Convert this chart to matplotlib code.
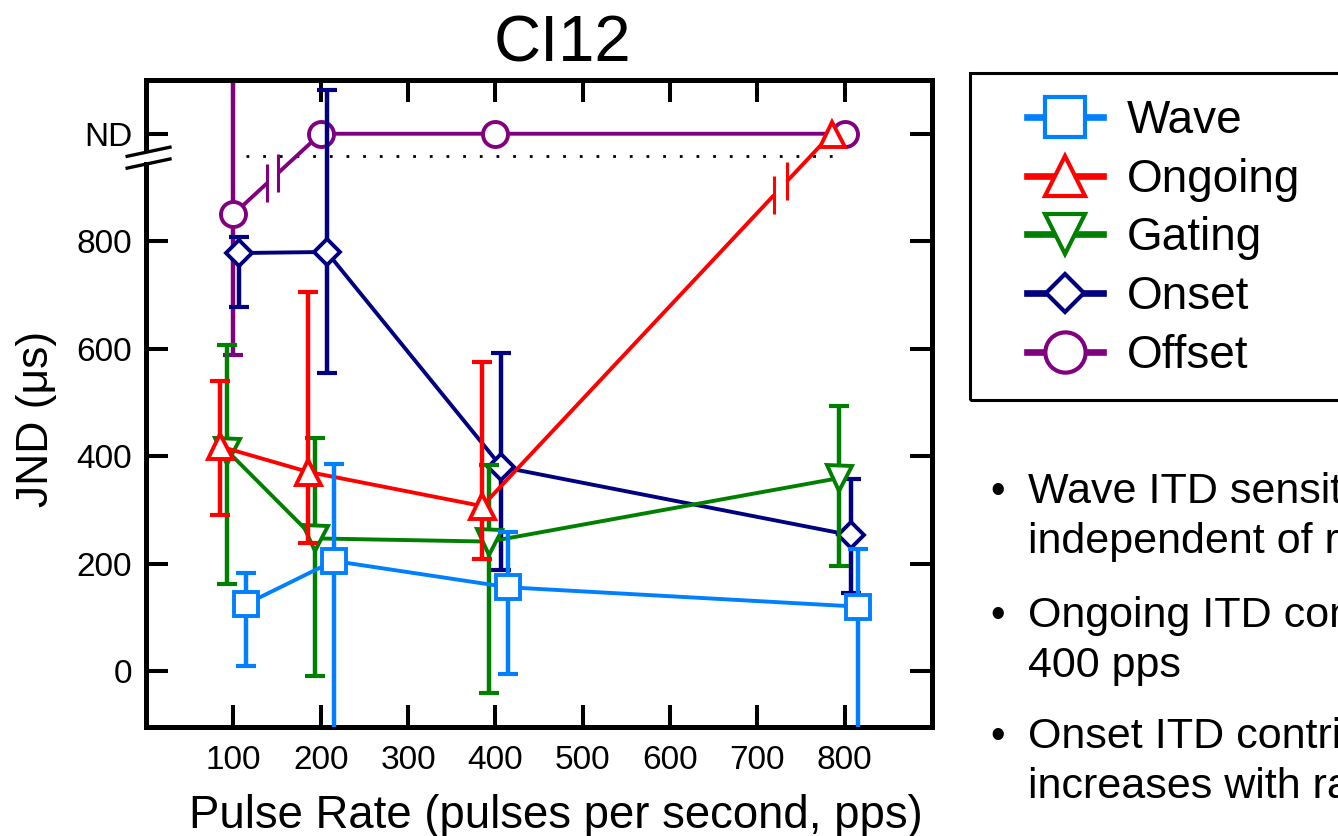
import numpy as np
import matplotlib
matplotlib.use('Agg')
import matplotlib.pyplot as plt
from matplotlib.lines import Line2D
from matplotlib.patches import Rectangle

plt.rcParams['font.family'] = ['Liberation Sans', 'DejaVu Sans']

# pulse rates (pps); ND = threshold not determined, drawn on the ND row
rates = [100, 200, 400, 800]
ND = 1000

series = ['Wave', 'Ongoing', 'Gating', 'Onset', 'Offset']

wave_jnd = [125, 205, 156, 120]
wave_lo = [10, -150, -5, -150]
wave_hi = [183, 386, 258, 228]

ongoing_jnd = [418, 371, 307, ND]
ongoing_lo = [290, 238, 208, np.nan]
ongoing_hi = [540, 705, 576, np.nan]

gating_jnd = [410, 247, 241, 359]
gating_lo = [163, -10, -41, 195]
gating_hi = [606, 433, 383, 493]

onset_jnd = [778, 780, 380, 253]
onset_lo = [678, 554, 188, 145]
onset_hi = [807, 1081, 592, 357]

offset_jnd = [850, ND, ND, ND]
offset_lo = [588, np.nan, np.nan, np.nan]
offset_hi = [1150, np.nan, np.nan, np.nan]

data = {
    'Wave': (wave_jnd, wave_lo, wave_hi),
    'Ongoing': (ongoing_jnd, ongoing_lo, ongoing_hi),
    'Gating': (gating_jnd, gating_lo, gating_hi),
    'Onset': (onset_jnd, onset_lo, onset_hi),
    'Offset': (offset_jnd, offset_lo, offset_hi),
}

# dotted line just under the ND row
nd_line_x = [115, 790]
nd_line_y = 958

bullets = [
    ('Wave ITD sensitivity', 'independent of rate'),
    ('Ongoing ITD contribution drops above', '400 pps'),
    ('Onset ITD contribution', 'increases with rate'),
]

# styles
colors = {'Wave': '#0080ff', 'Ongoing': '#ff0000', 'Gating': '#008000',
          'Onset': '#000080', 'Offset': '#800080'}
markers = {'Wave': 's', 'Ongoing': '^', 'Gating': 'v', 'Onset': 'D', 'Offset': 'o'}
msizes = {'Wave': 17.5, 'Ongoing': 18, 'Gating': 18, 'Onset': 13, 'Offset': 18}
leg_msizes = {'Wave': 29, 'Ongoing': 29, 'Gating': 29, 'Onset': 19, 'Offset': 29}
xshift = {'Wave': 15, 'Ongoing': -15, 'Gating': -7, 'Onset': 7, 'Offset': 0}
# axis-break marks on lines: series, segment start index, fractions along segment
line_breaks = [('Offset', 0, 0.385, 0.515), ('Ongoing', 2, 0.835, 0.872)]

W, H = 1338, 836
fig = plt.figure(figsize=(W / 100, H / 100), dpi=100)
ax = fig.add_axes([146 / W, 1 - 727 / H, (932 - 146) / W, (727 - 80) / H])

lw = 2.8
draw_order = ['Offset', 'Onset', 'Gating', 'Ongoing', 'Wave']
for k, name in enumerate(draw_order):
    jnd, lo, hi = (np.array(a, dtype=float) for a in data[name])
    x = np.array(rates, dtype=float) + xshift[name]
    c = colors[name]
    ok = ~np.isnan(lo)
    ax.errorbar(x[ok], jnd[ok], yerr=[jnd[ok] - lo[ok], hi[ok] - jnd[ok]],
                fmt='none', ecolor=c, elinewidth=3.2, capsize=7, capthick=3,
                zorder=2 + k)
    ax.plot(x, jnd, color=c, lw=lw, marker=markers[name],
            markersize=msizes[name], markerfacecolor='white',
            markeredgecolor=c, markeredgewidth=2.8, zorder=2.5 + k, label=name)

# "||" break marks on lines that jump to the ND row
for name, i, t1, t2 in line_breaks:
    jnd = data[name][0]
    x0, x1 = rates[i] + xshift[name], rates[i + 1] + xshift[name]
    y0, y1 = jnd[i], jnd[i + 1]
    bx = [x0 + t1 * (x1 - x0), x0 + t2 * (x1 - x0)]
    by = [y0 + t1 * (y1 - y0), y0 + t2 * (y1 - y0)]
    z = draw_order.index(name) + 2.6
    ax.plot(bx, by, color='white', lw=lw + 2, solid_capstyle='butt', zorder=z)
    ax.plot(bx, by, ls='none', marker='|', markersize=28, markeredgewidth=2.2,
            color=colors[name], zorder=z + 0.05)

ax.plot(nd_line_x, [nd_line_y, nd_line_y], color='black', lw=2,
        ls=(0, (1, 5)), zorder=1.5)

ax.set_xlim(0, 900)
ax.set_ylim(-104, 1100)
ax.set_xticks([100, 200, 300, 400, 500, 600, 700, 800])
ax.set_yticks([0, 200, 400, 600, 800, 1000])
ax.set_yticklabels(['0', '200', '400', '600', '800', 'ND'])
ax.tick_params(direction='in', length=16, width=2.9, labelsize=24,
               top=True, right=True)
ax.tick_params(axis='x', pad=13)
ax.tick_params(axis='y', pad=10)

for side in ['top', 'right', 'bottom', 'left']:
    ax.spines[side].set_linewidth(3.6)
# broken left axis between 800 and ND
ax.spines['left'].set_bounds(-104, 943)
yax = ax.get_yaxis_transform()
ax.plot([0, 0], [966, 1100], color='black', lw=3.6, transform=yax,
        clip_on=False, solid_capstyle='butt')
ax.plot([-0.024, 0.0305], [958, 975], color='black', lw=2.4, transform=yax,
        clip_on=False)
ax.plot([-0.024, 0.0305], [936, 953], color='black', lw=2.4, transform=yax,
        clip_on=False)

ax.set_xlabel('Pulse Rate (pulses per second, pps)', fontsize=32.8, labelpad=13)
ax.xaxis.label.set_x((556 - 146) / (932 - 146))
ax.set_ylabel('JND (\u03bcs)', fontsize=32, labelpad=14)
ax.yaxis.label.set_y((727 - 419) / (727 - 80))
fig.text(562 / W, 1 - 62 / H, 'CI12', fontsize=47, ha='center', va='baseline')

# legend with a frame running off the right edge
fig.add_artist(Rectangle((970 / W, 1 - 400 / H), 400 / W, 327 / H,
                         transform=fig.transFigure, fill=False,
                         edgecolor='black', lw=2.2, clip_on=False))
proxies = [Line2D([], [], color=colors[n], lw=4.8, marker=markers[n],
                  markersize=leg_msizes[n], markerfacecolor='white',
                  markeredgecolor=colors[n], markeredgewidth=3)
           for n in series]
fig.legend(proxies, series, loc='upper left',
           bbox_to_anchor=(1027 / W, 1 - 99 / H), frameon=False, fontsize=33,
           borderpad=0, borderaxespad=0, handlelength=1.66,
           handletextpad=0.52, labelspacing=0.32)

baselines = [(503, 553), (627, 677), (748, 798)]
for (l1, l2), (b1, b2) in zip(bullets, baselines):
    fig.text(998 / W, 1 - b1 / H, '\u2022', fontsize=30, ha='center',
             va='baseline')
    fig.text(1028 / W, 1 - b1 / H, l1, fontsize=31, va='baseline')
    fig.text(1028 / W, 1 - b2 / H, l2, fontsize=31, va='baseline')

fig.savefig('out.png', dpi=100)
